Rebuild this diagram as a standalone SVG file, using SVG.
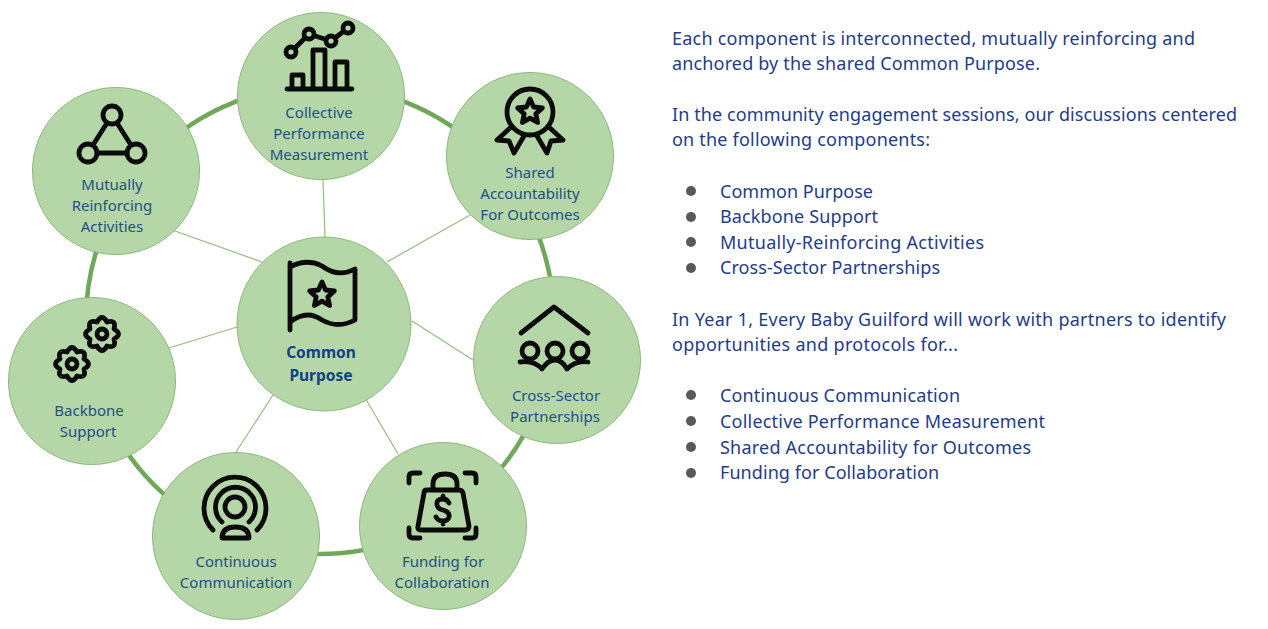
<svg xmlns="http://www.w3.org/2000/svg" width="1268" height="629" viewBox="0 0 1268 629">
<style>
.node{fill:#b5d7a8;stroke:#8cb97c;stroke-width:1}
.ring{fill:none;stroke:#70a85a;stroke-width:4.5}
.spoke{stroke:#92bd80;stroke-width:1.2;fill:none}
.icon{fill:none;stroke:#0b0b0b;stroke-width:4.8;stroke-linecap:round;stroke-linejoin:round}
.lbl{font-family:"Noto Sans","Open Sans",sans-serif;font-size:15px;fill:#1f4e86;text-anchor:middle}
.bold{font-weight:700;font-size:15.5px;fill:#123f85}
.para{font-family:"Noto Sans","Open Sans",sans-serif;font-size:18px;fill:#1f3c88}
.dot{fill:#595959}
</style>
<defs>
<path id="star" d="M0-13L3.6-5L12.4-4L5.8 1.9L7.6 10.5L0 6.1L-7.6 10.5L-5.800 1.9L-12.4-4L-3.6-5Z"/>
<g id="gear"><path d="M12-5Q21 0 12 5Q14.800 14.800 5 12Q0 21 -5 12Q-14.800 14.800 -12 5Q-21 0 -12 -5Q-14.800 -14.800 -5 -12Q0 -21 5 -12Q14.800 -14.800 12 -5Z"/><circle r="5"/></g>
</defs>
<rect width="1268" height="629" fill="#fff"/>
<g id="connectors">
<circle class="ring" cx="320" cy="320" r="234"/>
<path class="spoke" d="M323 180L325 237M387 262L470 215M412 321L473 360M364 396L398 454M275 392L236 452M237 327L169 348M262 262L175 231"/>
</g>
<g id="node-collective">
<circle class="node" cx="321" cy="96" r="83.500"/>
<path class="icon" d="M287 89H352M292 89V75H303V89M313 89V50H325V89M335 89V62H347V89M291 52L309 34L331 41L348 28"/>
<g class="icon" style="fill:#b5d7a8"><circle cx="291" cy="52" r="5"/><circle cx="309" cy="34" r="5"/><circle cx="331" cy="41" r="5"/><circle cx="348" cy="28" r="5"/></g>
<text class="lbl" x="319" y="118">Collective</text><text class="lbl" x="319" y="139">Performance</text><text class="lbl" x="319" y="160">Measurement</text>
</g>
<g id="node-shared">
<circle class="node" cx="530" cy="156" r="83.500"/>
<circle class="icon" cx="530" cy="112" r="23"/>
<use href="#star" class="icon" x="530" y="112"/>
<path class="icon" d="M510 128L497 140L509 141L514 153L524 136M550 128L563 140L551 141L547 153L537 136"/>
<text class="lbl" x="530" y="178">Shared</text><text class="lbl" x="530" y="199">Accountability</text><text class="lbl" x="530" y="220">For Outcomes</text>
</g>
<g id="node-cross">
<circle class="node" cx="557" cy="360" r="83.500"/>
<path class="icon" d="M521 333L554 307L588 333M520 362Q534 360 542 369Q548 360 555 360Q562 360 567 369Q576 360 588 362"/>
<circle class="icon" cx="530" cy="351" r="8"/><circle class="icon" cx="555" cy="351" r="8"/><circle class="icon" cx="580" cy="351" r="8"/>
<text class="lbl" x="556" y="401">Cross-Sector</text><text class="lbl" x="555" y="422">Partnerships</text>
</g>
<g id="node-funding">
<circle class="node" cx="443" cy="526" r="83.500"/>
<path class="icon" d="M427 490H459Q462 490 463 493L469 526Q469 530 465 530H421Q417 530 418 526L424 493Q424 490 427 490ZM433 489V484Q433 474 445 474Q457 474 457 484V489M449 503Q447 499 443 499Q436 499 437 505Q438 509 443 510Q450 512 449 517Q448 521 443 521Q438 521 436 517M443 496V499M443 521V524"/>
<path class="icon" d="M409 483V477Q409 473 413 473H420M465 473H472Q476 473 476 477V483M409 528V534Q409 538 413 538H420M465 538H472Q476 538 476 534V528"/>
<text class="lbl" x="443" y="567">Funding for</text><text class="lbl" x="442" y="588">Collaboration</text>
</g>
<g id="node-continuous">
<circle class="node" cx="236" cy="536" r="83.500"/>
<circle class="icon" cx="235" cy="507" r="10"/>
<path class="icon" d="M213 530A31 31 0 1 1 257 530M222 522A20 20 0 1 1 249 522M222 538Q222 527 235.500 527Q249 527 249 538Z"/>
<text class="lbl" x="236" y="567">Continuous</text><text class="lbl" x="236" y="588">Communication</text>
</g>
<g id="node-backbone">
<circle class="node" cx="92" cy="381" r="83.500"/>
<use href="#gear" class="icon" x="102" y="334"/><use href="#gear" class="icon" x="72" y="364"/>
<text class="lbl" x="89" y="416">Backbone</text><text class="lbl" x="88" y="437">Support</text>
</g>
<g id="node-mutually">
<circle class="node" cx="116" cy="171" r="83.500"/>
<path class="icon" d="M107 123L93 145M117 123L131 145M97 153H127"/>
<circle class="icon" cx="112" cy="115" r="9"/><circle class="icon" cx="88" cy="153" r="9"/><circle class="icon" cx="136" cy="153" r="9"/>
<text class="lbl" x="112" y="190">Mutually</text><text class="lbl" x="112" y="211">Reinforcing</text><text class="lbl" x="112" y="232">Activities</text>
</g>
<g id="node-common">
<circle class="node" cx="324" cy="324" r="87"/>
<path class="icon" d="M290 263V330M290 267Q307 258 322 266Q338 278 355 269V320Q338 329 322 320Q307 309 290 322"/>
<use href="#star" class="icon" x="322" y="295"/>
<text class="lbl bold" x="321" y="358">Common</text><text class="lbl bold" x="321" y="381">Purpose</text>
</g>
<g id="notes">
<text class="para" x="672" y="45" textLength="523">Each component is interconnected, mutually reinforcing and</text>
<text class="para" x="672" y="70" textLength="368">anchored by the shared Common Purpose.</text>
<text class="para" x="672" y="121" textLength="565">In the community engagement sessions, our discussions centered</text>
<text class="para" x="672" y="146" textLength="258">on the following components:</text>
<text class="para" x="720" y="198" textLength="153">Common Purpose</text>
<text class="para" x="720" y="223" textLength="158">Backbone Support</text>
<text class="para" x="720" y="249" textLength="264">Mutually-Reinforcing Activities</text>
<text class="para" x="720" y="274" textLength="220">Cross-Sector Partnerships</text>
<text class="para" x="672" y="326" textLength="554">In Year 1, Every Baby Guilford will work with partners to identify</text>
<text class="para" x="672" y="351" textLength="286">opportunities and protocols for...</text>
<text class="para" x="720" y="402" textLength="240">Continuous Communication</text>
<text class="para" x="720" y="428" textLength="325">Collective Performance Measurement</text>
<text class="para" x="720" y="454" textLength="311">Shared Accountability for Outcomes</text>
<text class="para" x="720" y="479" textLength="219">Funding for Collaboration</text>
<g class="dot"><circle cx="691" cy="191" r="5"/><circle cx="691" cy="217" r="5"/><circle cx="691" cy="242" r="5"/><circle cx="691" cy="268" r="5"/><circle cx="691" cy="395" r="5"/><circle cx="691" cy="421" r="5"/><circle cx="691" cy="447" r="5"/><circle cx="691" cy="473" r="5"/></g>
</g>
</svg>
